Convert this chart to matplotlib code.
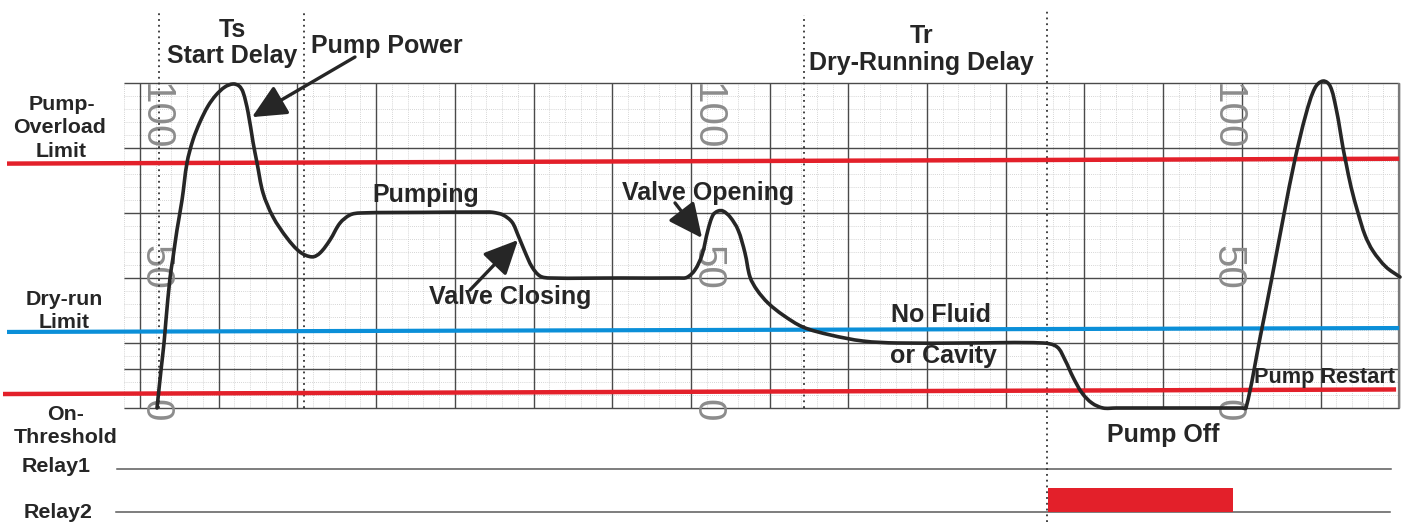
import matplotlib
matplotlib.use('Agg')
import matplotlib.pyplot as plt
from matplotlib.path import Path
from matplotlib.patches import PathPatch
import numpy as np

# time in grid divisions, signal in percent of the chart height
curve_t = [0.216, 0.267, 0.305, 0.330, 0.381, 0.419, 0.470, 0.534, 0.597, 0.673,
           0.762, 0.864, 0.966, 1.080, 1.182, 1.258, 1.309, 1.372, 1.436, 1.487,
           1.563, 1.690, 1.868, 2.033, 2.186, 2.287, 2.414, 2.541, 2.668, 2.795,
           3.60, 4.40, 4.485, 4.612, 4.727, 4.803, 4.892, 4.981, 5.083, 5.210,
           6.10, 6.85, 6.950, 7.052, 7.141, 7.217, 7.281, 7.345, 7.408, 7.497, 7.599, 7.687,
           7.751, 7.840, 7.980, 8.170, 8.424, 8.767, 9.187, 9.619,
           10.50, 11.474, 11.652, 11.753, 11.855, 11.970, 12.097, 12.236, 12.40,
           13.20, 13.85, 14.00, 14.053, 14.231, 14.384, 14.536, 14.676, 14.816, 14.930,
           15.032, 15.121, 15.197, 15.248, 15.286, 15.324, 15.388, 15.477, 15.565,
           15.667, 15.832, 16.010]
curve_v = [0.0, 11.7, 20.0, 27.1, 40.0, 46.2, 54.8, 64.0, 75.4, 82.5,
           88.0, 92.9, 96.3, 98.8, 99.7, 99.1, 97.2, 91.1, 81.8, 75.4,
           66.2, 58.8, 52.3, 48.0, 46.5, 47.7, 51.7, 56.9, 59.4, 60.0,
           60.2, 60.3, 60.2, 59.4, 57.2, 53.2, 48.0, 43.4, 40.6, 40.0,
           40.0, 40.0, 40.2, 42.5, 47.1, 54.8, 59.4, 60.6, 60.6, 58.8, 54.8, 47.7,
           40.3, 36.3, 32.3, 28.6, 24.9, 22.5, 20.6, 20.0,
           20.0, 20.0, 18.8, 14.8, 9.5, 4.6, 1.5, 0.0, 0.0,
           0.0, 0.0, 0.0, 0.0, 21.5, 40.3, 59.7, 76.6, 90.5, 98.5,
           100.6, 99.1, 92.3, 85.5, 80.0, 75.4, 68.0, 60.0, 53.2,
           48.3, 43.4, 40.3]

# limit levels at the left and right end of the chart
overload_limit = [75.2, 76.7]
dryrun_limit = [23.4, 24.6]
on_threshold = [4.3, 5.7]

# delay markers (grid divisions)
ts_start, ts_end = 0.241, 2.084
tr_start, tr_end = 8.437, 11.525

# relay2 on-period
relay2_on = [11.537, 13.888]

major_t = list(range(0, 17))
major_v = [0, 12, 20, 40, 60, 80, 100]
paper_labels = ['100', '50', '0']
paper_label_v = [89.7, 43.1, -0.6]
paper_cols = [0.191, 7.205, 13.812]

RED = '#e3202a'
BLUE = '#0b8fd8'
INK = '#262626'


def smooth_path(xs, ys, sx=78.7, sy=3.25):
    # cubic bezier path through the read points, handles from chord lengths
    p = np.column_stack([xs, ys]).astype(float)
    q = p * [sx, sy]
    seg = np.hypot(*np.diff(q, axis=0).T)
    n = len(p)
    m = np.zeros_like(p)
    for i in range(n):
        a, b = max(i - 1, 0), min(i + 1, n - 1)
        span = np.hypot(*(q[b] - q[a]))
        m[i] = (p[b] - p[a]) / span
    verts = [p[0]]
    codes = [Path.MOVETO]
    for i in range(n - 1):
        d = seg[i] / 3
        verts += [p[i] + m[i] * d, p[i + 1] - m[i + 1] * d, p[i + 1]]
        codes += [Path.CURVE4] * 3
    return Path(verts, codes)


fig = plt.figure(figsize=(14.1, 5.22), dpi=100)
ax = fig.add_axes([0, 0, 1, 1])
ax.set_xlim(-1.779, 16.137)
ax.set_ylim(-35.077, 125.538)
ax.axis('off')

# chart paper: minor dotted grid
ax.vlines(np.arange(-0.2, 16.01, 0.2), 0, 100, color='#c8c8c8', lw=0.6, linestyles=(0, (1, 1.5)), zorder=1)
ax.hlines(np.arange(0, 101, 4), -0.2, 16, color='#c8c8c8', lw=0.6, linestyles=(0, (1, 1.5)), zorder=1)
# major grid
ax.vlines(major_t, 0, 100, color='#4a4a4a', lw=1.0, zorder=2)
ax.hlines(major_v, -0.2, 16, color='#4a4a4a', lw=1.0, zorder=2)
ax.vlines([16], 0, 100, color='#7a7a7a', lw=1.6, zorder=2)

# printed scale on the paper
font_paper = dict(family='Liberation Sans', fontsize=29, color='#8c8c8c', rotation=-90,
                  ha='center', va='center', zorder=3)
for c in paper_cols:
    for lab, v in zip(paper_labels, paper_label_v):
        ax.text(c, v, lab, **font_paper)

# delay markers
dots = dict(color='#333333', lw=1.3, linestyle=(0, (1, 2.2)), zorder=4)
ax.plot([ts_start, ts_start], [0, 121.5], **dots)
ax.plot([ts_end, ts_end], [0, 121.5], **dots)
ax.plot([tr_start, tr_start], [0, 120.9], **dots)
ax.plot([tr_end, tr_end], [-35, 123.0], **dots)

# limits
ax.plot([-1.690, 16.0], overload_limit, color=RED, lw=3.2, solid_capstyle='butt', zorder=5)
ax.plot([-1.690, 16.0], dryrun_limit, color=BLUE, lw=3.0, solid_capstyle='butt', zorder=5)
ax.plot([-1.741, 15.96], on_threshold, color=RED, lw=3.2, solid_capstyle='butt', zorder=5)

# pump power curve
ax.add_patch(PathPatch(smooth_path(curve_t, curve_v), facecolor='none', edgecolor=INK,
                       lw=2.6, joinstyle='round', capstyle='round', zorder=6))

# relays
ax.plot([-0.292, 15.896], [-18.8, -18.8], color='#5a5a5a', lw=1.1, zorder=2)
ax.plot([-0.305, 15.883], [-32.0, -32.0], color='#5a5a5a', lw=1.1, zorder=2)
ax.bar(relay2_on[0], 7.4, width=relay2_on[1] - relay2_on[0], bottom=-32.0,
       align='edge', color=RED, zorder=3)

# labels
big = dict(family='Liberation Sans', fontweight='bold', fontsize=18, color=INK,
           ha='center', va='baseline', zorder=7)
mid = dict(big, fontsize=15.4)
ax.text(1.175, 114.2, 'Ts', **big)
ax.text(1.169, 106.2, 'Start Delay', **big)
ax.text(3.139, 109.2, 'Pump Power', **big)
ax.text(9.936, 112.3, 'Tr', **big)
ax.text(9.930, 104.0, 'Dry-Running Delay', **big)
ax.text(3.634, 63.4, 'Pumping', **big)
ax.text(7.217, 64.0, 'Valve Opening', **big)
ax.text(4.701, 32.0, 'Valve Closing', **big)
ax.text(10.178, 26.5, 'No Fluid', **big)
ax.text(10.203, 13.8, 'or Cavity', **big)
ax.text(12.999, -10.5, 'Pump Off', **big)
ax.text(15.057, 7.7, 'Pump Restart', **dict(mid, fontsize=15.6))

ax.text(-0.991, 91.7, 'Pump-', **mid)
ax.text(-1.017, 84.6, 'Overload', **mid)
ax.text(-1.004, 77.2, 'Limit', **mid)
ax.text(-0.966, 31.7, 'Dry-run', **mid)
ax.text(-0.966, 24.6, 'Limit', **mid)
ax.text(-0.940, -3.7, 'On-', **mid)
ax.text(-0.940, -10.8, 'Threshold', **mid)
ax.text(-1.067, -19.7, 'Relay1', **mid)
ax.text(-1.042, -33.8, 'Relay2', **mid)

# arrows
arrow = dict(arrowstyle='-|>,head_length=0.95,head_width=0.45', color=INK, lw=2.4,
             mutation_scale=22, shrinkA=0, shrinkB=0)
ax.annotate('', xy=(1.423, 89.5), xytext=(2.732, 108.0), arrowprops=arrow, zorder=7)
ax.annotate('', xy=(4.803, 51.7), xytext=(4.193, 36.3), arrowprops=arrow, zorder=7)
ax.annotate('', xy=(7.141, 52.3), xytext=(6.798, 63.1), arrowprops=arrow, zorder=7)

fig.savefig('out.png', dpi=100)
